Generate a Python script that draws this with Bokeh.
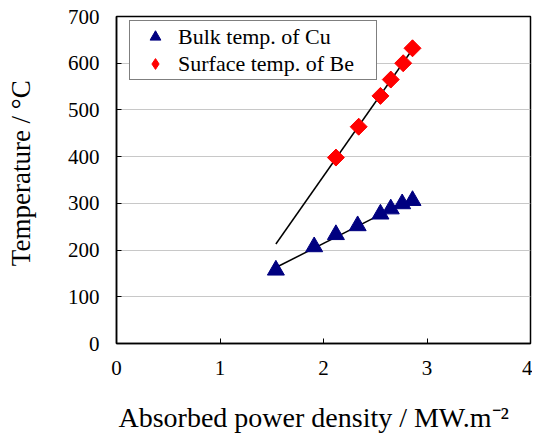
import numpy as np
from bokeh.plotting import figure
from bokeh.models import Range1d, FixedTicker, Legend, LegendItem
from bokeh.embed import file_html
from bokeh.resources import INLINE

# Data
cu_x = [1.54, 1.91, 2.12, 2.33, 2.55, 2.65, 2.76, 2.86]
cu_y = [157, 207, 233, 252, 277, 288, 299, 306]
be_x = [2.12, 2.34, 2.55, 2.65, 2.77, 2.86]
be_y = [398, 464, 530, 565, 600, 632]
fit_x = [1.54, 2.86]
x_ticks = [0, 1, 2, 3, 4]
y_ticks = [0, 100, 200, 300, 400, 500, 600, 700]

FONT = "Liberation Serif"

p = figure(frame_width=414, frame_height=327, output_backend="svg",
           toolbar_location=None, x_range=Range1d(0, 4), y_range=Range1d(0, 700),
           min_border_left=116, min_border_right=2, min_border_top=16,
           min_border_bottom=60)
p.background_fill_color = "white"
p.border_fill_color = "white"
p.outline_line_color = "black"
p.outline_line_width = 1.5

p.xgrid.grid_line_color = None
p.ygrid.grid_line_color = "#c8c8c8"
p.ygrid.grid_line_width = 1

p.xaxis.ticker = FixedTicker(ticks=x_ticks)
p.yaxis.ticker = FixedTicker(ticks=y_ticks)
for ax in (p.xaxis[0], p.yaxis[0]):
    ax.major_tick_in = 5
    ax.major_tick_out = 0
    ax.minor_tick_in = 0
    ax.minor_tick_out = 0
    ax.axis_line_color = "black"
    ax.axis_line_width = 1.5
    ax.major_tick_line_color = "black"
    ax.major_label_text_font = FONT
    ax.major_label_text_font_size = "21px"
    ax.major_label_text_color = "black"
    ax.major_label_standoff = 17
    ax.axis_label_text_font = FONT
    ax.axis_label_text_font_style = "normal"
    ax.axis_label_text_color = "black"

p.xaxis.axis_label = "Absorbed power density / MW.m\u207b\u00b2\u2002\u2009"
p.yaxis.axis_label = "\u2002Temperature / \u00b0C"
p.xaxis.axis_label_text_font_size = "28px"
p.yaxis.axis_label_text_font_size = "27px"
p.xaxis.axis_label_standoff = 24
p.yaxis.axis_label_standoff = 29

# fit lines
cu_fit = np.polyfit(cu_x, cu_y, 1)
be_fit = np.polyfit(be_x, be_y, 1)
fx = np.array(fit_x)
p.line(fx, np.polyval(cu_fit, fx), line_color="black", line_width=1.5)
p.line(fx, np.polyval(be_fit, fx), line_color="black", line_width=1.5)

r_cu = p.scatter(cu_x, cu_y, marker="triangle", size=17, fill_color="#000080",
                 line_color="#000080")
# diamond glyph (used for the legend), covered by the wider rotated squares
r_be_leg = p.scatter(be_x, be_y, marker="diamond", size=16,
                     fill_color="#ff0000", line_color="#ff0000")
r_be = p.scatter(be_x, be_y, marker="square", angle=np.pi / 4, size=12,
                 fill_color="#ff0000", line_color="#ff0000")

legend = Legend(items=[LegendItem(label="Bulk temp. of Cu", renderers=[r_cu]),
                       LegendItem(label="Surface temp. of Be", renderers=[r_be_leg])],
                location=(13, 263))
legend.label_text_font = FONT
legend.label_text_font_size = "22px"
legend.label_text_color = "black"
legend.border_line_color = "black"
legend.border_line_width = 1
legend.background_fill_alpha = 1
legend.padding = 2
legend.spacing = 0
legend.glyph_width = 46
legend.glyph_height = 27
legend.label_standoff = 0
legend.margin = 0
legend.label_width = 196
legend.label_height = 20
p.add_layout(legend)

open("out.html", "w").write(file_html(p, INLINE))
